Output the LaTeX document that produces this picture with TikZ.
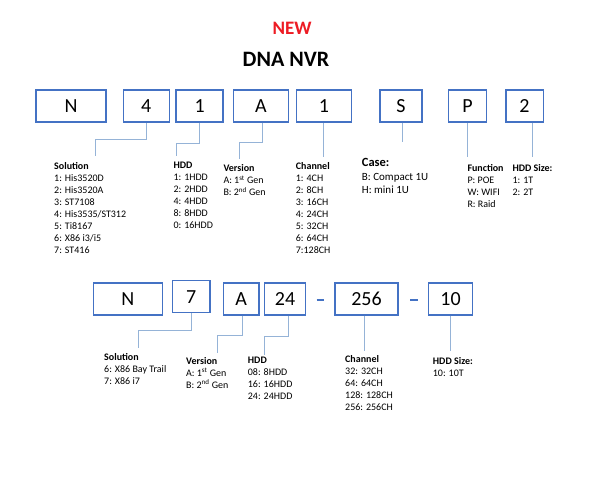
\documentclass[tikz,border=0pt]{standalone}
\usepackage{fontspec}
\setmainfont{Carlito}
\usetikzlibrary{calc}
\definecolor{boxblue}{RGB}{68,114,196}
\definecolor{linkblue}{RGB}{149,179,215}
\definecolor{newred}{RGB}{237,28,36}

\begin{document}
\begin{tikzpicture}[x=1pt,y=-1pt,
  code/.style={draw=boxblue,line width=1.5pt,minimum height=32pt,inner sep=0pt,font=\fontsize{20}{24}\selectfont},
  link/.style={linkblue,line width=1pt},
  info/.style={anchor=north west,align=left,inner sep=0pt,font=\fontsize{10}{12}\selectfont},
  bar/.style={boxblue,line width=2.5pt}]
\useasboundingbox (0,0) rectangle (600,477);

\node[font=\fontsize{19}{23}\selectfont\bfseries,text=newred] (new) at (292,28.7) {NEW};
\node[font=\fontsize{22}{26}\selectfont\bfseries] (title) at (286,59) {DNA NVR};

% first code
\node[code,minimum width=70pt] (tN) at (71,106) {N};
\node[code,minimum width=46pt] (t4) at (146.3,106) {4};
\node[code,minimum width=47pt] (t1) at (199.7,106) {1};
\node[code,minimum width=55pt] (tA) at (260.8,106) {A};
\node[code,minimum width=55pt] (tC) at (323.9,106) {1};
\node[code,minimum width=42pt] (tS) at (401,106) {S};
\node[code,minimum width=38.4pt] (tP) at (467.5,106) {P};
\node[code,minimum width=37.5pt] (t2) at (524.5,106) {2};

\node[info] (sol1) at (54,162) {\textbf{Solution}\\1: His3520D\\2: His3520A\\3: ST7108\\4: His3535/ST312\\5: Ti8167\\6: X86 i3/i5\\7: ST416};
\node[info] (hdd1) at (173.3,162) {\textbf{HDD}\\1: 1HDD\\2: 2HDD\\4: 4HDD\\8: 8HDD\\0: 16HDD};
\node[info] (ver1) at (223.3,164.5) {\textbf{Version}\\A: 1\textsuperscript{st} Gen\\B: 2\textsuperscript{nd} Gen};
\node[info] (ch1) at (295.7,162) {\textbf{Channel}\\1: 4CH\\2: 8CH\\3: 16CH\\4: 24CH\\5: 32CH\\6: 64CH\\7:128CH};
\node[info,font=\fontsize{11}{13.4}\selectfont] (case) at (361.7,158.5) {{\fontsize{12.5}{13.4}\selectfont\bfseries Case:}\\B: Compact 1U\\H: mini 1U};
\node[info] (fun) at (467.3,164.5) {\textbf{Function}\\P: POE\\W: WIFI\\R: Raid};
\node[info] (size1) at (512.3,164.5) {\textbf{HDD Size:}\\1: 1T\\2: 2T};

\coordinate (eSol1) at (95.7,155.7);
\coordinate (eHdd1) at (176.7,156);
\coordinate (eVer1) at (239,159);
\draw[link] (t4.south) -- ++(0,16.3) -| (eSol1);
\draw[link] (t1.south) -- ++(0,20.3) -| (eHdd1);
\draw[link] ([xshift=1.5pt]tA.south) -- ++(0,19.7) -| (eVer1);
\draw[link] (tC.south) -- ++(0,34.7);
\draw[link] ([xshift=1.3pt]tS.south) -- ++(0,19.7);
\draw[link] (tP.south) -- ++(0,34.7);
\draw[link] ([xshift=8pt]t2.south) -- ++(0,34);

% second code
\node[code,minimum width=69pt] (bN) at (127.8,298.8) {N};
\node[code,minimum width=37.3pt] (b7) at (191.3,296.7) {7};
\node[code,minimum width=35.7pt] (bA) at (241.2,298.8) {A};
\node[code,minimum width=41.4pt] (b24) at (285,298.8) {24};
\node[code,minimum width=63.3pt] (b256) at (366.5,298.8) {256};
\node[code,minimum width=44.4pt] (b10) at (450.5,298.8) {10};

\draw[bar] ($(b24.east)!0.5!(b256.west)+(0,1.2)$) ++(-3.7,0) -- ++(7.4,0);
\draw[bar] ($(b256.east)!0.5!(b10.west)+(0.8,1.2)$) ++(-3.7,0) -- ++(7.4,0);

\node[info] (sol2) at (104,353.5) {\textbf{Solution}\\6: X86 Bay Trail\\7: X86 i7};
\node[info] (ver2) at (186,357.2) {\textbf{Version}\\A: 1\textsuperscript{st} Gen\\B: 2\textsuperscript{nd} Gen};
\node[info] (hdd2) at (247.7,357.2) {\textbf{HDD}\\08: 8HDD\\16: 16HDD\\24: 24HDD};
\node[info] (ch2) at (345,355.2) {\textbf{Channel}\\32: 32CH\\64: 64CH\\128: 128CH\\256: 256CH};
\node[info] (size2) at (432.7,357.2) {\textbf{HDD Size:}\\10: 10T};

\coordinate (eSol2) at (138.3,348.3);
\coordinate (eVer2) at (217.7,353.3);
\coordinate (eHdd2) at (264.3,355);
\draw[link] (b7.south) -- ++(0,17.3) -| (eSol2);
\draw[link] ([xshift=1.1pt]bA.south) -- ++(0,20) -| (eVer2);
\draw[link] ([xshift=3.3pt]b24.south) -- ++(0,21) -| (eHdd2);
\draw[link] ([xshift=-2.2pt]b256.south) -- ++(0,35);
\draw[link] (b10.south) -- ++(0,35);

\end{tikzpicture}
\end{document}
